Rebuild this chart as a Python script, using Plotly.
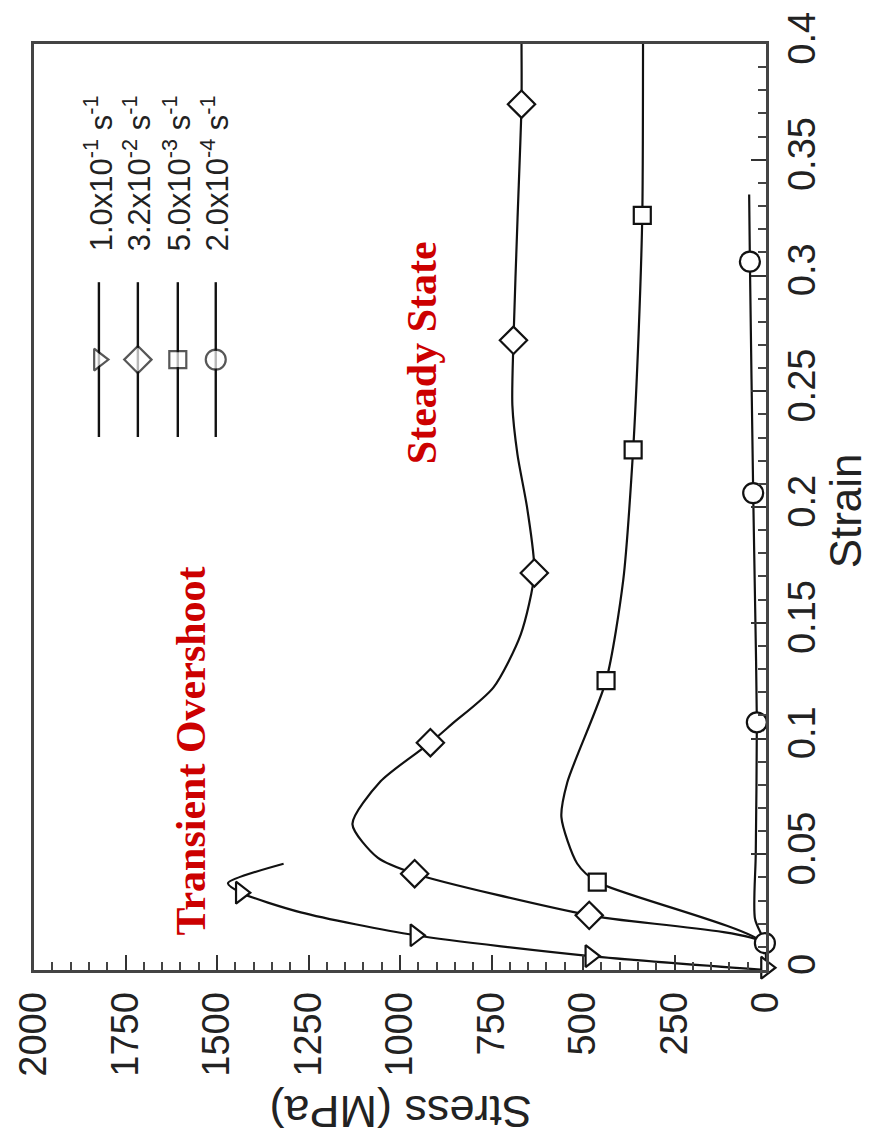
import plotly.graph_objects as go

# ---------------- data (stress in MPa, strain) ----------------
series_names = ["1.0x10<sup>-1</sup> s<sup>-1</sup>", "3.2x10<sup>-2</sup> s<sup>-1</sup>",
                "5.0x10<sup>-3</sup> s<sup>-1</sup>", "2.0x10<sup>-4</sup> s<sup>-1</sup>"]
symbols = ["triangle-right", "diamond", "square", "circle"]

# series 1: 1.0e-1 /s (curve)
s1_stress = [0, 480, 958, 1271, 1435, 1470, 1318]
s1_strain = [0.0, 0.006, 0.015, 0.0249, 0.0334, 0.0375, 0.0459]
s1_mk_stress = [0, 480, 958, 1435]
s1_mk_strain = [0.001, 0.006, 0.015, 0.0334]

# series 2: 3.2e-2 /s
s2_stress = [0, 8, 483, 960, 1061, 1130, 1053, 917, 860, 745, 670, 633, 652, 679, 693, 690, 679, 668, 668]
s2_strain = [0.0, 0.0116, 0.0236, 0.0416, 0.0485, 0.063, 0.0815, 0.0982, 0.106, 0.122, 0.145,
             0.1715, 0.199, 0.2226, 0.244, 0.272, 0.324, 0.374, 0.4]
s2_mk_stress = [483, 960, 917, 633, 690, 668]
s2_mk_strain = [0.0236, 0.0416, 0.0982, 0.1715, 0.272, 0.374]

# series 3: 5.0e-3 /s
s3_stress = [0, 8, 461, 516, 559, 543, 437, 390, 363, 348, 338, 336]
s3_strain = [0.0, 0.0116, 0.038, 0.046, 0.066, 0.081, 0.125, 0.1685, 0.2247, 0.275, 0.326, 0.4]
s3_mk_stress = [461, 437, 363, 338]
s3_mk_strain = [0.038, 0.125, 0.2247, 0.326]

# series 4: 2.0e-4 /s
s4_stress = [0, 3, 30, 28, 25, 30, 35, 44, 46]
s4_strain = [0.0, 0.0116, 0.022, 0.05, 0.107, 0.16, 0.206, 0.306, 0.335]
s4_mk_stress = [3, 25, 35, 44]
s4_mk_strain = [0.0116, 0.107, 0.206, 0.306]

stress_ticks = [0, 250, 500, 750, 1000, 1250, 1500, 1750, 2000]
stress_labels = ["0", "250", "500", "750", "1000", "1250", "1500", "1750", "2000"]
strain_ticks = [0, 0.05, 0.1, 0.15, 0.2, 0.25, 0.3, 0.35, 0.4]
strain_labels = ["0", "0.05", "0.1", "0.15", "0.2", "0.25", "0.3", "0.35", "0.4"]

# ---------------- figure ----------------
W, H = 873, 1148
ML, MR, MT, MB = 33, 107, 37, 178
PW, PH = W - ML - MR, H - MT - MB
SANS = "Liberation Sans, Arial, sans-serif"
SERIF = "Liberation Serif, Times New Roman, serif"
TICKFONT = dict(family=SANS, size=38, color="#222")
RED = "#cc0000"


def px(xp):
    return (xp - ML) / PW


def py(yp):
    return (H - MB - yp) / PH


fig = go.Figure()

lines = [(s1_stress, s1_strain), (s2_stress, s2_strain), (s3_stress, s3_strain), (s4_stress, s4_strain)]
marks = [(s1_mk_stress, s1_mk_strain), (s2_mk_stress, s2_mk_strain),
         (s3_mk_stress, s3_mk_strain), (s4_mk_stress, s4_mk_strain)]
msizes = [19, 21, 17, 20]

for (lx, ly) in lines:
    fig.add_trace(go.Scatter(x=lx, y=ly, mode="lines",
                             line=dict(color="#111", width=2.2, shape="spline", smoothing=0.7),
                             showlegend=False, hoverinfo="skip", cliponaxis=False))
for (mx, my), sym, ms in zip(marks, symbols, msizes):
    fig.add_trace(go.Scatter(x=mx, y=my, mode="markers",
                             marker=dict(symbol=sym, size=ms, color="white",
                                         line=dict(color="#111", width=2.2)),
                             showlegend=False, hoverinfo="skip", cliponaxis=False))

# custom rotated legend on an overlay unit axis
leg_x = [px(98), px(137), px(177), px(215)]
leg_y0, leg_ym, leg_y1 = py(433), py(355), py(277)
for lxp, sym, ms, name in zip(leg_x, symbols, msizes, series_names):
    fig.add_trace(go.Scatter(x=[lxp, lxp, lxp], y=[leg_y0, leg_ym, leg_y1], mode="lines+markers",
                             xaxis="x2", yaxis="y2",
                             line=dict(color="#111", width=2.4),
                             marker=dict(symbol=sym, size=[0, ms, 0], color="white",
                                         line=dict(color="#111", width=[0, 2.2, 0])),
                             showlegend=False, hoverinfo="skip"))
    fig.add_annotation(x=lxp, y=py(248), xref="paper", yref="paper", text=name,
                       textangle=-90, showarrow=False, xanchor="center", yanchor="bottom",
                       font=dict(family=SANS, size=31, color="#222"))

# axis titles (rotated)
fig.add_annotation(x=px(400), y=py(1112), xref="paper", yref="paper", text="Stress (MPa)",
                   textangle=180, showarrow=False, xanchor="center", yanchor="middle",
                   font=dict(family=SANS, size=45, color="#222"))
fig.add_annotation(x=px(846), y=py(507), xref="paper", yref="paper", text="Strain",
                   textangle=-90, showarrow=False, xanchor="center", yanchor="middle",
                   font=dict(family=SANS, size=44, color="#222"))

# red annotations
fig.add_annotation(x=px(190), y=py(749), xref="paper", yref="paper",
                   text="<b>Transient Overshoot</b>", textangle=-90,
                   showarrow=False, xanchor="center", yanchor="middle",
                   font=dict(family=SERIF, size=42, color=RED))
fig.add_annotation(x=px(421), y=py(348), xref="paper", yref="paper",
                   text="<b>Steady State</b>", textangle=-90,
                   showarrow=False, xanchor="center", yanchor="middle",
                   font=dict(family=SERIF, size=42, color=RED))

fig.update_layout(
    width=W, height=H,
    margin=dict(l=ML, r=MR, t=MT, b=MB),
    paper_bgcolor="white", plot_bgcolor="white",
    xaxis=dict(range=[2000, 0], tickvals=stress_ticks, ticktext=stress_labels, tickangle=-90,
               ticks="inside", ticklen=15, tickwidth=2, tickcolor="#333",
               minor=dict(dtick=50, tick0=0, ticks="inside", ticklen=8, tickwidth=1.5, tickcolor="#444"),
               showline=True, linecolor="#444", linewidth=3, mirror=True,
               showgrid=False, zeroline=False, tickfont=TICKFONT, ticklabelstandoff=4),
    yaxis=dict(range=[0, 0.4], side="right", tickvals=strain_ticks, ticktext=strain_labels,
               tickangle=-90, ticks="inside", ticklen=15, tickwidth=2, tickcolor="#333",
               minor=dict(dtick=0.01, tick0=0, ticks="inside", ticklen=8, tickwidth=1.5, tickcolor="#444"),
               showline=True, linecolor="#444", linewidth=3, mirror=True,
               showgrid=False, zeroline=False, tickfont=TICKFONT, ticklabelstandoff=0),
    xaxis2=dict(range=[0, 1], overlaying="x", visible=False, fixedrange=True),
    yaxis2=dict(range=[0, 1], overlaying="y", visible=False, fixedrange=True),
)

fig.write_html("out.html")
